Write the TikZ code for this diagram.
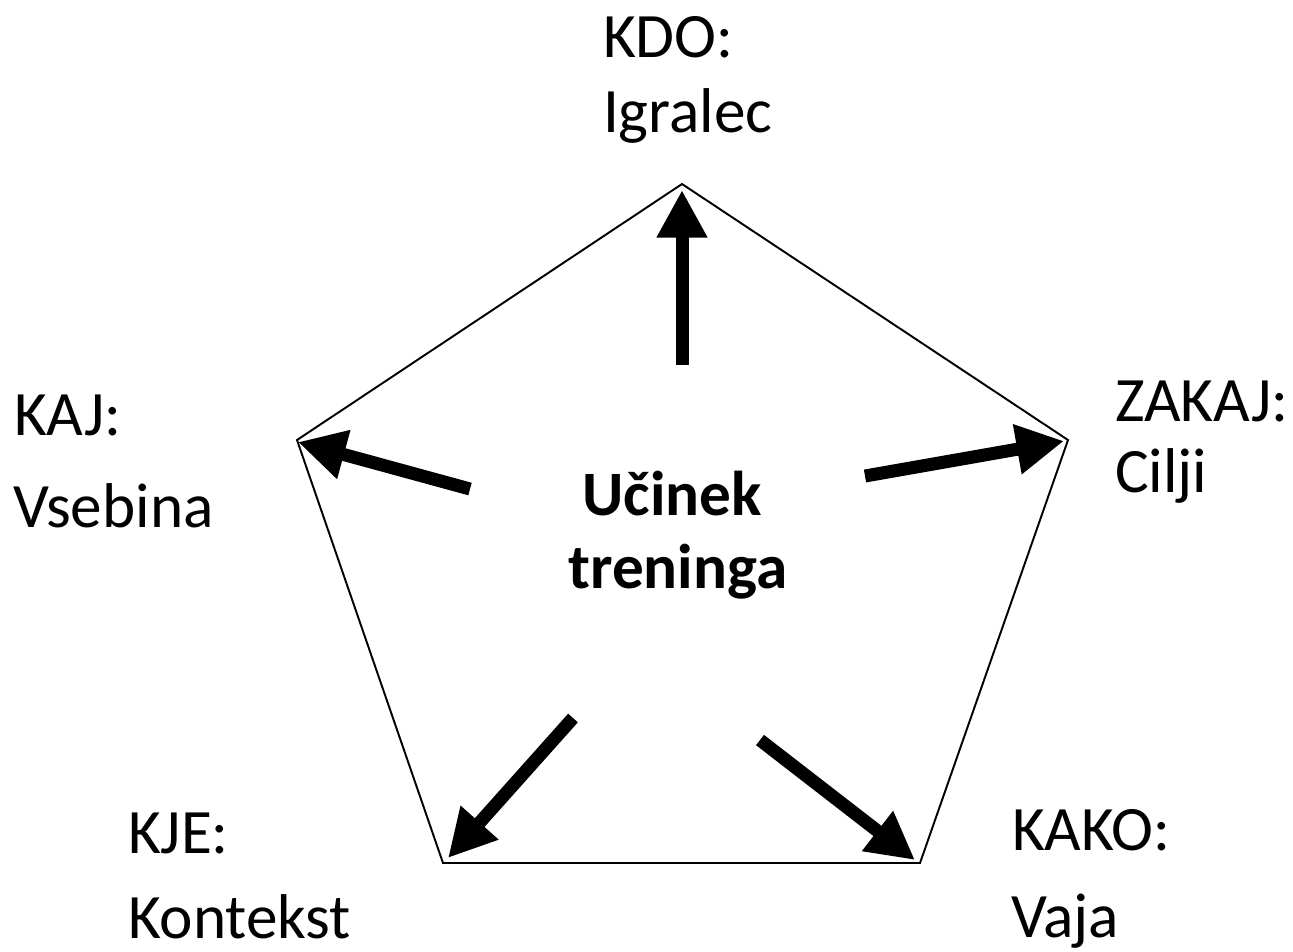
\documentclass[tikz,border=0pt]{standalone}
\usepackage{fontspec}
\setmainfont{Carlito}
\usepackage{tikz}
\usetikzlibrary{positioning,arrows.meta,calc}

\begin{document}
\begin{tikzpicture}[x=0.02cm,y=-0.02cm,every node/.style={inner sep=0,outer sep=0,anchor=base west,font=\fontsize{36}{43}\selectfont}, bigarrow/.style={line width=0.26cm,-{Triangle[length=0.95cm,width=0.95cm]}}]

    \useasboundingbox (0,0) rectangle (1293,951);

    \coordinate (top) at (682,184);
    \coordinate (right) at (1068,440);
    \coordinate (br) at (920,863);
    \coordinate (bl) at (443,863);
    \coordinate (left) at (297,440);

    \draw[line width=1.1pt,line join=miter] (top) -- (right) -- (br) -- (bl) -- (left) -- cycle;

    \node (kdo) at (603,57) {KDO:};
    \node (igralec) at (603,132) {Igralec};
    \node (kaj) at (14,435) {KAJ:};
    \node (vsebina) at (13,527) {Vsebina};
    \node (zakaj) at (1115,421) {ZAKAJ:};
    \node (cilji) at (1115,492) {Cilji};
    \node (kje) at (128,853) {KJE:};
    \node (kontekst) at (128,938) {Kontekst};
    \node (kako) at (1012,850) {KAKO:};
    \node (vaja) at (1011,937) {Vaja};

    \node (ucinek) [anchor=base,font=\fontsize{36}{43}\selectfont\bfseries] at (672,515) {Učinek};
    \node (treninga) [anchor=base,font=\fontsize{36}{43}\selectfont\bfseries] at (678,588) {treninga};

    \coordinate (s1) at (682,365);
    \coordinate (s2) at (470,489);
    \coordinate (s3) at (865,476);
    \coordinate (s4) at (573,718);
    \coordinate (s5) at (760,740);

    \draw[bigarrow] (s1) -- ($(top)+(0,6)$);
    \draw[bigarrow] (s2) -- ($(left)+(1,2)$);
    \draw[bigarrow] (s3) -- ($(right)+(-4,1)$);
    \draw[bigarrow] (s4) -- ($(bl)+(5,-5)$);
    \draw[bigarrow] (s5) -- ($(br)+(-5,-3)$);

\end{tikzpicture}
\end{document}
